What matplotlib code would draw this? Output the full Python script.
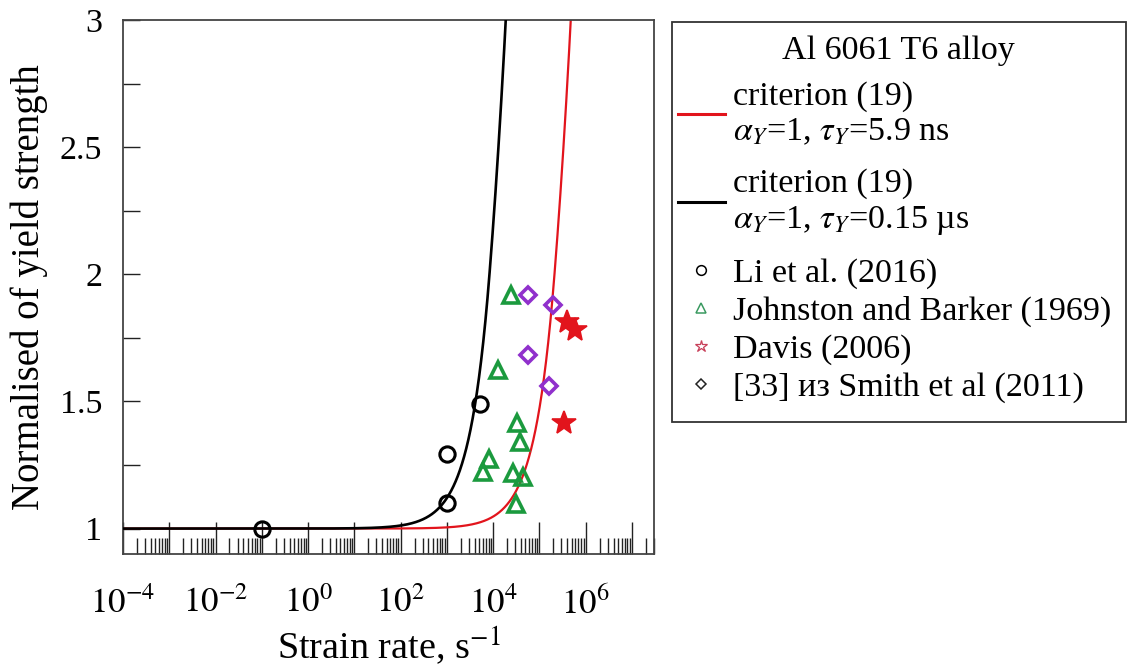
import numpy as np
import matplotlib
matplotlib.use("Agg")
import matplotlib.pyplot as plt
from matplotlib.lines import Line2D
from matplotlib.patches import Rectangle
from matplotlib.ticker import (FixedLocator, FuncFormatter, LogLocator,
                               NullFormatter, MultipleLocator)

plt.rcParams['font.family'] = ['Liberation Serif', 'DejaVu Serif']
plt.rcParams['mathtext.fontset'] = 'stix'

# ---- experimental data: strain rate (1/s) and normalised yield strength ----
li_rate = [0.1, 1.0e3, 1.0e3, 5.1e3]
li_ratio = [1.0, 1.10, 1.295, 1.49]

jb_rate = [2.4e4, 1.26e4, 3.24e4, 3.76e4, 8.0e3, 5.96e3, 2.65e4, 4.36e4, 3.08e4]
jb_ratio = [1.917, 1.622, 1.417, 1.339, 1.272, 1.224, 1.220, 1.201, 1.098]

davis_rate = [3.89e5, 5.78e5, 3.35e5]
davis_ratio = [1.811, 1.780, 1.417]

smith_rate = [5.58e4, 1.94e5, 5.58e4, 1.59e5]
smith_ratio = [1.917, 1.878, 1.681, 1.559]

# ---- criterion (19) parameters ----
tau_red = 5.9e-9      # s
tau_black = 0.15e-6   # s
modulus_ratio = 800.0  # E / (2 sigma_Y)

legend_title = "Al 6061 T6 alloy"
curve_labels = [
    "criterion (19)\n" + r"$\alpha_Y$=1, $\tau_Y$=5.9 ns",
    "criterion (19)\n" + r"$\alpha_Y$=1, $\tau_Y$=0.15 µs",
]
data_labels = [
    "Li et al. (2016)",
    "Johnston and Barker (1969)",
    "Davis (2006)",
    "[33] из Smith et al (2011)",
]


def criterion(rate, tau):
    """Dynamic-to-static yield ratio for linear loading, alpha = 1."""
    s = modulus_ratio * tau * rate
    return np.where(s <= 1.0, 1.0 + s, 2.0 * np.sqrt(s))


rate_grid = np.logspace(-4, np.log10(3e7), 4000)

W, H = 1127, 671
fig = plt.figure(figsize=(W / 100, H / 100), dpi=100)
ax = fig.add_axes([123 / W, 1 - 554 / H, 531 / W, 534 / H])

red = '#e2141c'
green = '#1b9a3e'
purple = '#9030cc'

ax.plot(rate_grid, criterion(rate_grid, tau_red), color=red, lw=1.6, zorder=2)
ax.plot(rate_grid, criterion(rate_grid, tau_black), color='black', lw=1.9, zorder=3)

ax.plot(jb_rate, jb_ratio, ls='none', marker='^', ms=12, mfc='none',
        mec=green, mew=2.6, zorder=4)
ax.plot(smith_rate, smith_ratio, ls='none', marker='D', ms=8, mfc='none',
        mec=purple, mew=2.6, zorder=4)
ax.plot(davis_rate, davis_ratio, ls='none', marker='*', ms=18, mfc=red,
        mec=red, mew=1.2, zorder=4)
ax.plot(li_rate, li_ratio, ls='none', marker='o', ms=11, mfc='none',
        mec='black', mew=2.2, zorder=5)

ax.set_xscale('log')
ax.set_xlim(1e-4, 3e7)
ax.set_ylim(0.9, 3.0)

ax.xaxis.set_major_locator(FixedLocator([10.0 ** k for k in range(-4, 8)]))
ax.xaxis.set_major_formatter(FuncFormatter(
    lambda v, p: (r"$10^{%d}$" % round(np.log10(v)))
    if round(np.log10(v)) % 2 == 0 and round(np.log10(v)) <= 6 else ""))
ax.xaxis.set_minor_locator(LogLocator(base=10, subs=np.arange(2, 10), numticks=50))
ax.xaxis.set_minor_formatter(NullFormatter())

ax.yaxis.set_major_locator(MultipleLocator(0.25))
ax.yaxis.set_major_formatter(FuncFormatter(
    lambda v, p: ("%g" % v) if abs(v * 2 - round(v * 2)) < 1e-6 else ""))

ax.tick_params(axis='x', which='major', direction='in', length=23, width=1.0,
               pad=24, labelsize=25, top=False, colors='#222222')
ax.tick_params(axis='x', which='minor', direction='in', length=11.5, width=1.0,
               top=False, colors='#222222')
ax.tick_params(axis='y', which='major', direction='in', length=12, width=1.0,
               pad=15, labelsize=24.5, right=False, colors='#222222')
ax.tick_params(axis='both', labelcolor='black')

for sp in ax.spines.values():
    sp.set_color('#444444')
    sp.set_linewidth(1.3)

ax.set_xlabel(r"Strain rate, s$^{-1}$", fontsize=27.5)
ax.set_ylabel("Normalised of yield strength", fontsize=28)
ax.xaxis.set_label_coords(0.5, -0.132)
ax.yaxis.set_label_coords(-0.142, 0.5)

# ---- legend: framed box holding a title, the two curves and the data sets ----
legend_kw = dict(loc='upper left', bbox_transform=fig.transFigure,
                 fontsize=24.5, frameon=False, borderpad=0, borderaxespad=0,
                 handlelength=1.37, handletextpad=0.25)

curve_handles = [
    Line2D([], [], color=red, lw=2.2),
    Line2D([], [], color='black', lw=2.2),
]
data_handles = [
    Line2D([], [], ls='none', marker='o', ms=7, mfc='none', mec='black', mew=1.1),
    Line2D([], [], ls='none', marker='^', ms=7, mfc='none', mec='#3a9a60', mew=1.1),
    Line2D([], [], ls='none', marker='*', ms=9, mfc='none', mec='#c8405a', mew=0.9),
    Line2D([], [], ls='none', marker='D', ms=5, mfc='none', mec='#222222', mew=1.1),
]

leg_curves = fig.legend(curve_handles, curve_labels,
                        bbox_to_anchor=(678 / W, 1 - 81 / H),
                        labelspacing=0.62, **legend_kw)
for t in leg_curves.get_texts():
    t.set_linespacing(1.2)

leg_data = fig.legend(data_handles, data_labels,
                      bbox_to_anchor=(678 / W, 1 - 258 / H),
                      labelspacing=0.2, **legend_kw)

fig.text(898 / W, 1 - 51 / H, legend_title, ha='center', va='center',
         fontsize=24.5)

fig.add_artist(Rectangle((672 / W, 1 - 422 / H), 454 / W, 400 / H,
                         transform=fig.transFigure, fill=False,
                         edgecolor='#333333', lw=1.3))

fig.savefig('out.png', dpi=100)
